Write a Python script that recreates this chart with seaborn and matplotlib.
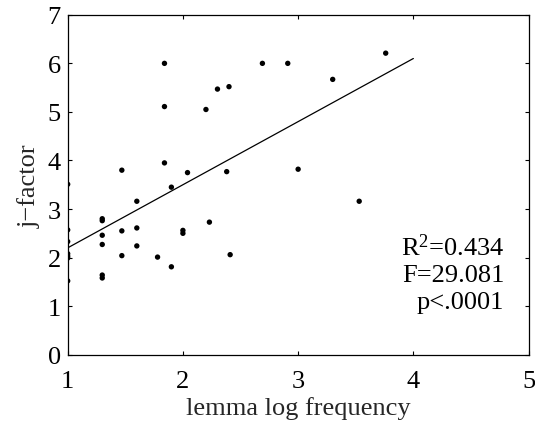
import matplotlib
matplotlib.use("Agg")
import matplotlib.pyplot as plt
import seaborn as sns
import pandas as pd

# data
log_freq = [1.00, 1.00, 1.00, 1.00, 1.00, 1.00, 1.00,
            1.30, 1.30, 1.30, 1.30, 1.30, 1.30,
            1.47, 1.47, 1.47, 1.60, 1.60, 1.60, 1.78,
            1.84, 1.84, 1.84, 1.90, 1.90, 2.00, 2.00, 2.04,
            2.20, 2.23, 2.30, 2.38, 2.40, 2.41,
            2.69, 2.91, 3.00, 3.30, 3.53, 3.76]
j_factor = [3.51, 2.57, 2.33, 2.08, 2.03, 1.99, 1.52,
            2.80, 2.76, 2.46, 2.27, 1.64, 1.58,
            3.80, 2.55, 2.04, 3.16, 2.61, 2.24, 2.01,
            6.00, 5.11, 3.95, 3.45, 1.81, 2.56, 2.50, 3.75,
            5.05, 2.73, 5.47, 3.77, 5.52, 2.06,
            6.00, 6.00, 3.82, 5.67, 3.16, 6.21]
fit_x = [1.0, 4.0]
fit_y = [2.20, 6.10]
x_ticks = [1, 2, 3, 4, 5]
y_ticks = [0, 1, 2, 3, 4, 5, 6, 7]
stats_lines = ["R$^2$=0.434", "F=29.081", "p<.0001"]

sns.set_theme(style="ticks")
plt.rcParams["font.family"] = ["Liberation Serif", "DejaVu Serif"]
plt.rcParams["mathtext.fontset"] = "custom"
plt.rcParams["mathtext.rm"] = "Liberation Serif"
plt.rcParams["mathtext.it"] = "Liberation Serif"

df = pd.DataFrame({"x": log_freq, "y": j_factor})
fit = pd.DataFrame({"x": fit_x, "y": fit_y})

fig = plt.figure(figsize=(5.35, 4.27), dpi=100)
ax = fig.add_axes([0.1265, 0.167, 0.8615, 0.796])

sns.scatterplot(data=df, x="x", y="y", ax=ax, color="black", s=15,
                edgecolor="none", legend=False)
sns.lineplot(data=fit, x="x", y="y", ax=ax, color="black", lw=0.9)

ax.set_xlim(1, 5)
ax.set_ylim(0, 7)
ax.set_xticks(x_ticks)
ax.set_yticks(y_ticks)
ax.tick_params(direction="in", length=3.2, width=0.8, top=True, right=True,
               labelsize=19, colors="black")
ax.tick_params(axis="x", pad=11)
ax.tick_params(axis="y", pad=5)
for s in ax.spines.values():
    s.set_visible(True)
    s.set_linewidth(0.9)
    s.set_color("black")
ax.set_xlabel("lemma log frequency", fontsize=19, labelpad=3)
ax.set_ylabel("j\u2212factor", fontsize=19, labelpad=5)

ax.text(4.79, 1.68, "\n".join(stats_lines), ha="right", va="center",
        fontsize=19, linespacing=1.27, color="black")

fig.savefig("out.png", dpi=100)
